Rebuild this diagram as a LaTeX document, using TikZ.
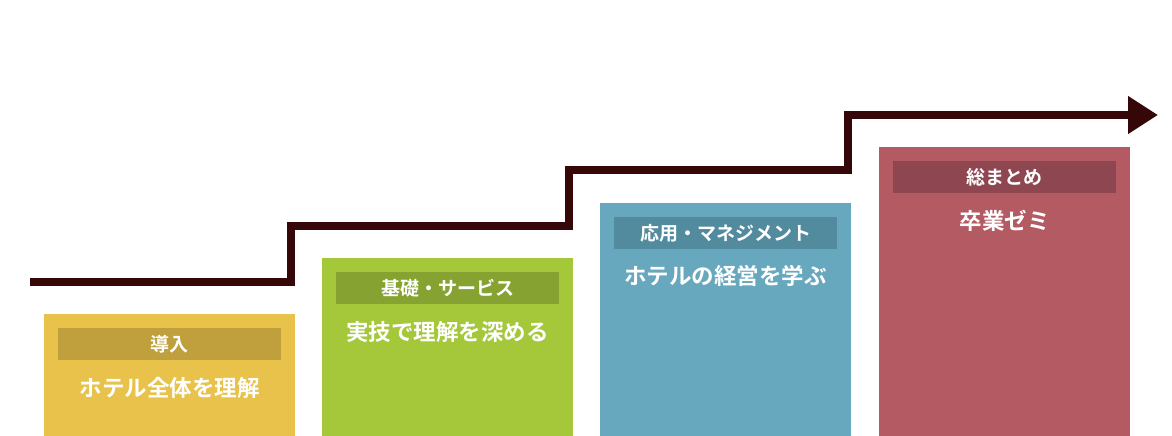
\documentclass[tikz,border=0pt]{standalone}
\usepackage{fontspec}
\newfontfamily\jpfont{Noto Sans CJK JP}[BoldFont={Noto Sans CJK JP Bold}]
\usetikzlibrary{arrows.meta}
\definecolor{stepline}{HTML}{350708}
\definecolor{introfill}{HTML}{E8C24A}
\definecolor{introbar}{HTML}{BFA03C}
\definecolor{basefill}{HTML}{A5C83B}
\definecolor{basebar}{HTML}{86A331}
\definecolor{applyfill}{HTML}{67A8BE}
\definecolor{applybar}{HTML}{528A9E}
\definecolor{finalfill}{HTML}{B35A63}
\definecolor{finalbar}{HTML}{8E4750}
\tikzset{
  stagebox/.style={rectangle,anchor=north west,inner sep=0pt,minimum width=251pt},
  stagebar/.style={rectangle,anchor=north west,inner sep=0pt,minimum width=223pt,minimum height=32pt,
    text=white,font=\jpfont\bfseries\fontsize{19pt}{19pt}\selectfont},
  stagetext/.style={text=white,font=\jpfont\bfseries\fontsize{22.5pt}{22.5pt}\selectfont}
}
\begin{document}
\begin{tikzpicture}[x=1pt,y=-1pt]
	\useasboundingbox (0,0) rectangle (1172,436);
	
	% stage boxes
	\node[stagebox,fill=introfill,minimum height=122pt] (intro) at (44,314) {};
	\node[stagebox,fill=basefill,minimum height=178pt] (base) at (322,258) {};
	\node[stagebox,fill=applyfill,minimum height=233pt] (apply) at (600,203) {};
	\node[stagebox,fill=finalfill,minimum height=289pt] (final) at (879,147) {};
	
	% title bars
	\node[stagebar,fill=introbar] (introtitle) at (58,328) {導入};
	\node[stagebar,fill=basebar] (basetitle) at (336,272) {基礎・サービス};
	\node[stagebar,fill=applybar] (applytitle) at (614,217) {応用・マネジメント};
	\node[stagebar,fill=finalbar] (finaltitle) at (893,161) {総まとめ};
	
	\node[stagetext] (introtext) at (169.5,388) {ホテル全体を理解};
	\node[stagetext] (basetext) at (447.5,332) {実技で理解を深める};
	\node[stagetext] (applytext) at (725.5,276) {ホテルの経営を学ぶ};
	\node[stagetext] (finaltext) at (1004.5,221) {卒業ゼミ};
	
	% the stepped line
	\coordinate (s0) at (30,282);
	\coordinate (s1) at (291,282);
	\coordinate (s2) at (291,226);
	\coordinate (s3) at (569,226);
	\coordinate (s4) at (569,170);
	\coordinate (s5) at (848,170);
	\coordinate (s6) at (848,115);
	\coordinate (s7) at (1158,115);
	
	\draw [line width=8pt,stepline,miter limit=10,-{Triangle[length=30pt,width=36pt]}] (s0)
	-- (s1) -- (s2) -- (s3) -- (s4) -- (s5) -- (s6) -- (s7);
	
\end{tikzpicture}
\end{document}
